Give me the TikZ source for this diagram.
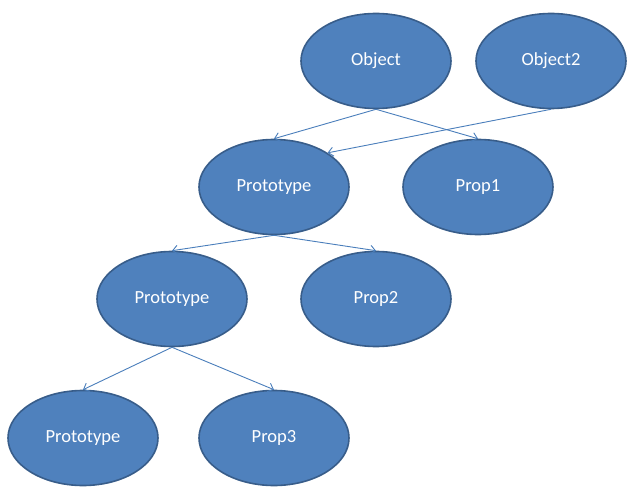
\documentclass[tikz,border=0pt]{standalone}
\usepackage{fontspec}
\setmainfont{Carlito}
\usetikzlibrary{arrows.meta,shapes.geometric}
\definecolor{blobfill}{HTML}{4F81BD}
\definecolor{blobline}{HTML}{385D8A}
\definecolor{linkline}{HTML}{4A7EBB}
\newcommand*{\wMax}{635}
\newcommand*{\hMax}{500}
\begin{document}
\begin{tikzpicture}[x=1pt,y=-1pt,
	blob/.style={ellipse,draw=blobline,line width=1.6pt,fill=blobfill,text=white,
		minimum width=150pt,minimum height=95pt,inner sep=0pt,
		font=\fontsize{18.5}{22}\selectfont},
	link/.style={draw=linkline,line width=0.9pt,-{Straight Barb[length=5pt,width=9pt]}}]
	\useasboundingbox (0,0) rectangle (\wMax,\hMax);
	
	\node[blob] (object) at (376,61) {Object};
	\node[blob] (object2) at (551,61) {Object2};
	\node[blob] (proto1) at (274,187) {Prototype};
	\node[blob] (prop1) at (478,187) {Prop1};
	\node[blob] (proto2) at (172,299) {Prototype};
	\node[blob] (prop2) at (376,299) {Prop2};
	\node[blob] (proto3) at (83,438) {Prototype};
	\node[blob] (prop3) at (274,438) {Prop3};
	
	\draw[link] (object.south) -- (proto1.north);
	\draw[link] (object.south) -- (prop1.north);
	\draw[link] (object2.south) -- (proto1.north east);
	
	\draw[link] (proto1.south) -- (proto2.north);
	\draw[link] (proto1.south) -- (prop2.north);
	
	\draw[link] (proto2.south) -- (proto3.north);
	\draw[link] (proto2.south) -- (prop3.north);
\end{tikzpicture}
\end{document}
